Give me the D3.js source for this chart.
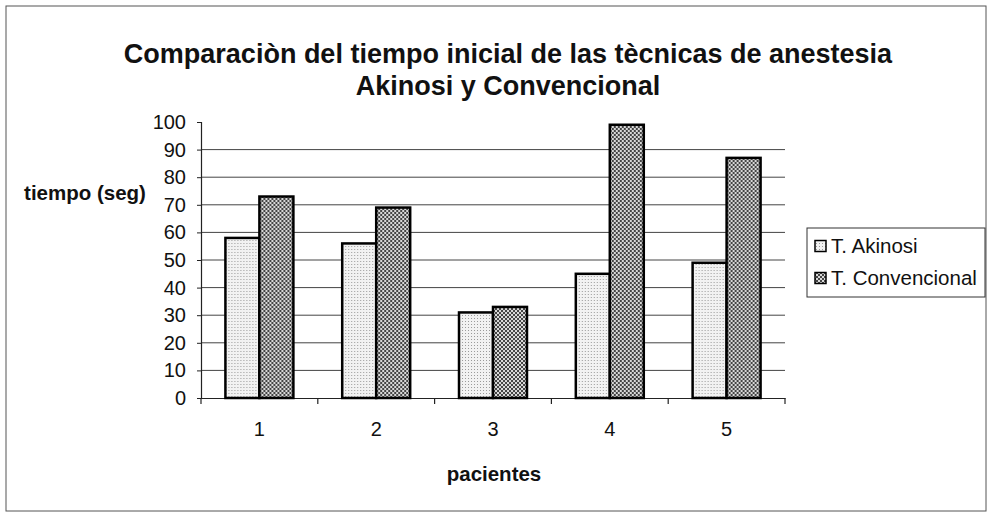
<!DOCTYPE html>
<html><head><meta charset="utf-8">
<script src="https://cdn.jsdelivr.net/npm/d3@7"></script>
<style>body{margin:0;background:#fff}svg{display:block}</style>
</head><body><svg id="c" width="992" height="514"></svg>
<script>
const categories = ["1","2","3","4","5"];
const seriesNames = ["T. Akinosi","T. Convencional"];
const akinosi = [58,56,31,45,49];
const convencional = [73,69,33,99,87];
const yTicks = [0,10,20,30,40,50,60,70,80,90,100];

(function(){
const svg = d3.select("#c");
const font = "Liberation Sans, Arial, sans-serif";
const defs = svg.append("defs");
const p1 = defs.append("pattern").attr("id","pA").attr("patternUnits","userSpaceOnUse").attr("width",3).attr("height",3);
p1.append("rect").attr("width",3).attr("height",3).attr("fill","#f2f2f2");
p1.append("rect").attr("x",0).attr("y",0).attr("width",1).attr("height",1).attr("fill","#9a9a9a");
const p2 = defs.append("pattern").attr("id","pC").attr("patternUnits","userSpaceOnUse").attr("width",4).attr("height",4);
p2.append("rect").attr("width",4).attr("height",4).attr("fill","#d8d8d8");
p2.append("rect").attr("x",0).attr("y",0).attr("width",2).attr("height",2).attr("fill","#444");
p2.append("rect").attr("x",2).attr("y",2).attr("width",2).attr("height",2).attr("fill","#444");

svg.append("rect").attr("x",6).attr("y",6).attr("width",980).attr("height",505)
  .attr("fill","#fff").attr("stroke","#555").attr("stroke-width",1);

const pl=201, pr=785, pt=122, pb=398;
const y = d3.scaleLinear().domain([0,100]).range([pb,pt]);
const x0 = d3.scaleBand().domain(categories).range([pl,pr]).paddingInner(0.418).paddingOuter(0.209);
const x1 = d3.scaleBand().domain(seriesNames).range([0,x0.bandwidth()]);

svg.append("g").selectAll("line").data(yTicks.filter(t=>t>0 && t<100)).join("line")
  .attr("x1",pl).attr("x2",pr).attr("y1",d=>y(d)).attr("y2",d=>y(d))
  .attr("stroke","#444").attr("stroke-width",1);

const ya = svg.append("g").attr("transform",`translate(${pl},0)`)
  .call(d3.axisLeft(y).tickValues(yTicks).tickSize(4).tickPadding(11));
ya.select(".domain").attr("stroke","#222").attr("stroke-width",1.2);
ya.selectAll(".tick line").attr("stroke","#222");
ya.selectAll("text").attr("font-family",font).attr("font-size",20).attr("fill","#111");

const xa = svg.append("g").attr("transform",`translate(0,${pb})`)
  .call(d3.axisBottom(x0).tickSize(0).tickPadding(24));
xa.select(".domain").attr("stroke","#222").attr("stroke-width",1.2);
xa.selectAll("text").attr("font-family",font).attr("font-size",20).attr("fill","#111");
const step = x0.step();
svg.append("g").selectAll("line").data(d3.range(categories.length+1)).join("line")
  .attr("x1",i=>pl+i*step).attr("x2",i=>pl+i*step).attr("y1",pb).attr("y2",pb+6)
  .attr("stroke","#222").attr("stroke-width",1.2);

const data = categories.map((c,i)=>({c, vals:[{k:seriesNames[0],v:akinosi[i],f:"url(#pA)"},{k:seriesNames[1],v:convencional[i],f:"url(#pC)"}]}));
svg.append("g").selectAll("g").data(data).join("g")
  .attr("transform",d=>`translate(${x0(d.c)},0)`)
  .selectAll("rect").data(d=>d.vals).join("rect")
  .attr("x",d=>x1(d.k)).attr("y",d=>y(d.v)).attr("width",x1.bandwidth()).attr("height",d=>pb-y(d.v))
  .attr("fill",d=>d.f).attr("stroke","#000").attr("stroke-width",2.5);

svg.append("text").attr("x",508).attr("y",63).attr("text-anchor","middle")
  .attr("font-family",font).attr("font-weight","bold").attr("font-size",27).attr("fill","#111")
  .text("Comparaciòn del tiempo inicial de las tècnicas de anestesia");
svg.append("text").attr("x",508).attr("y",95).attr("text-anchor","middle")
  .attr("font-family",font).attr("font-weight","bold").attr("font-size",27).attr("fill","#111")
  .text("Akinosi y Convencional");

svg.append("text").attr("x",85).attr("y",200).attr("text-anchor","middle")
  .attr("font-family",font).attr("font-weight","bold").attr("font-size",20.5).attr("fill","#111")
  .text("tiempo (seg)");
svg.append("text").attr("x",494).attr("y",481).attr("text-anchor","middle")
  .attr("font-family",font).attr("font-weight","bold").attr("font-size",20.5).attr("fill","#111")
  .text("pacientes");

const lg = svg.append("g");
lg.append("rect").attr("x",807).attr("y",228).attr("width",178).attr("height",69)
  .attr("fill","#fff").attr("stroke","#333").attr("stroke-width",1);
const fills=["url(#pA)","url(#pC)"];
seriesNames.forEach((s,i)=>{
  const cy = 246 + i*32;
  lg.append("rect").attr("x",815).attr("y",cy-5.5).attr("width",11).attr("height",11)
    .attr("fill",fills[i]).attr("stroke","#000").attr("stroke-width",1.5);
  lg.append("text").attr("x",831).attr("y",cy+7).attr("font-family",font).attr("font-size",20.5).attr("fill","#111").text(s);
});
})();
</script></body></html>
